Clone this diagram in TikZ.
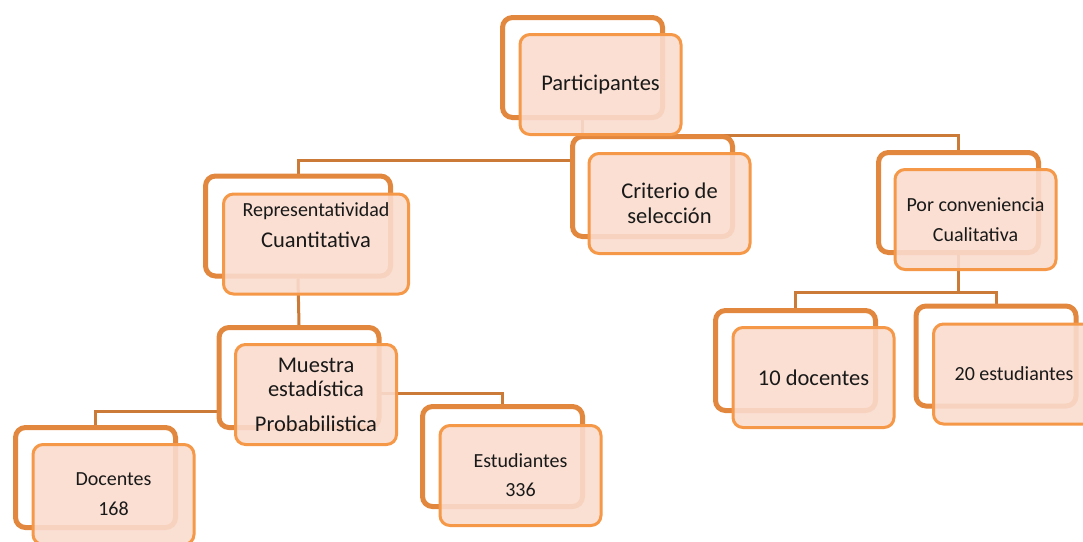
\documentclass[tikz,border=0pt]{standalone}
\usepackage{fontspec}
\setmainfont{Carlito}
\usetikzlibrary{shadows}
\pgfdeclarelayer{background}
\pgfsetlayers{background,main}
\definecolor{backline}{RGB}{226,135,62}
\definecolor{frontline}{RGB}{245,152,72}
\definecolor{frontfill}{RGB}{250,220,206}
\definecolor{linkline}{RGB}{204,122,56}
\tikzstyle{backbox}=[draw=backline, line width=5pt, fill=white, rounded corners=10pt, minimum width=160pt, minimum height=100pt, drop shadow={opacity=0.2, shadow xshift=2pt, shadow yshift=-2pt}]
\tikzstyle{frontbox}=[draw=frontline, line width=3pt, fill=frontfill, fill opacity=0.9, text opacity=1, text=black!90, rounded corners=10pt, minimum width=161pt, minimum height=100pt, align=center, inner sep=0pt]
\tikzstyle{link}=[draw=linkline, line width=3pt]
\tikzstyle{big}=[font=\fontsize{22.5}{24.5}\selectfont]
\tikzstyle{small}=[font=\fontsize{20}{24}\selectfont]

\begin{document}
\begin{tikzpicture}[x=1pt, y=-1pt]
			%\draw [help lines, step=50] (0,0) grid (1083,541);
			\useasboundingbox (0,0) rectangle (1083,541);

			% back boxes
			\node[backbox] (parti) at (582.5,67.5) {};
			\node[backbox] (crit) at (652.5,186.5) {};
			\node[backbox] (conv) at (958.5,202.5) {};
			\node[backbox, minimum width=185pt] (repr) at (298,226) {};
			\node[backbox] (mues) at (299,377.5) {};
			\node[backbox] (doc) at (95.5,477.5) {};
			\node[backbox] (est) at (502.5,456.5) {};
			\node[backbox] (diez) at (795.5,360.5) {};
			\node[backbox] (veinte) at (996,356) {};

			% links, kept under the boxes
			\begin{pgfonlayer}{background}
	        \draw[link] (parti.south) -- ++(0,15) -| (conv.north);
	        \draw[link] (parti.south) -- ++(0,15) -| (crit.north);
	        \draw[link] (parti.south) -- ++(0,40) -| (repr.north);
	        \draw[link] (repr.south) -- (mues.north);
	        \draw[link] (mues.center) -- ++(0,33.5) -| (doc.north);
	        \draw[link] (mues.center) -- ++(0,15.5) -| (est.north);
	        \draw[link] (conv.south) -- ++(0,37) -| (diez.north);
	        \draw[link] (conv.south) -- ++(0,37) -| (veinte.north);
			\end{pgfonlayer}

			% front boxes
			\node[frontbox, big] (parti-f) at ([shift={(18,17)}]parti.center) {Participantes};
			\node[frontbox, big] (crit-f) at ([shift={(17,17)}]crit.center) {Criterio de\\selección};
			\node[frontbox, small] (conv-f) at ([shift={(17,17)}]conv.center) {Por conveniencia\\[6pt]Cualitativa};
			\node[frontbox, minimum width=185pt] (repr-f) at ([shift={(18,18)}]repr.center) {};
			\node[small, text=black!90, align=center] (repr-txt) at (316,225.5) {Representatividad\\[7pt]\fontsize{22.5}{24}\selectfont Cuantitativa};
			\node[frontbox, big] (mues-f) at ([shift={(17,17)}]mues.center) {Muestra\\estadística\\[10pt]Probabilistica};
			\node[frontbox, small] (doc-f) at ([shift={(18,17)}]doc.center) {Docentes\\[6pt]168};
			\node[frontbox, small] (est-f) at ([shift={(18,19)}]est.center) {Estudiantes\\[5pt]336};
			\node[frontbox, big] (diez-f) at ([shift={(18,17)}]diez.center) {10 docentes};
			\node[frontbox, small] (veinte-f) at ([shift={(18,18)}]veinte.center) {20 estudiantes};

		\end{tikzpicture}
\end{document}
